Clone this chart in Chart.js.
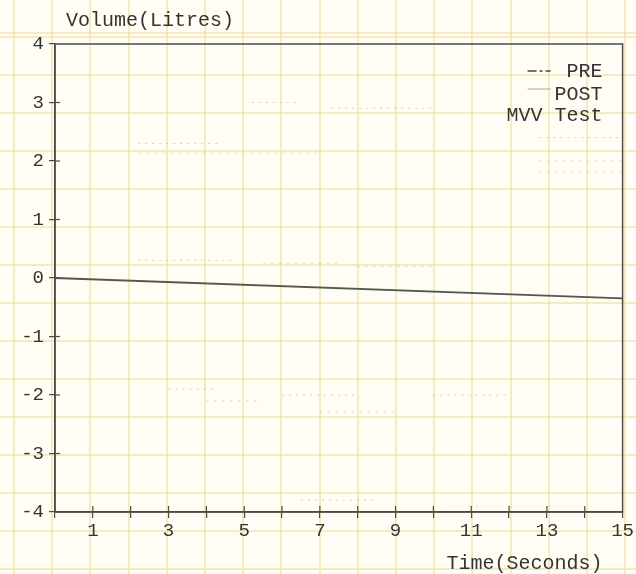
<!DOCTYPE html>
<html>
<head>
<meta charset="utf-8">
<script src="https://cdn.jsdelivr.net/npm/chart.js@4"></script>
<style>
  html, body { margin: 0; padding: 0; }
  body { width: 636px; height: 574px; overflow: hidden; background-color: #fffdf4; }
  /* graph paper behind the chart */
  .paper {
    width: 636px; height: 574px; position: relative;
    background-image:
      repeating-linear-gradient(to right, rgba(240,222,160,0.6) 0 2px, transparent 2px 38.2px),
      repeating-linear-gradient(to bottom, rgba(240,222,160,0.6) 0 2px, transparent 2px 38px);
    background-position: 13px 0, 0 36px;
  }
  canvas { position: absolute; left: 0; top: 0; }
</style>
</head>
<body>
<div class="paper"><canvas id="mvv" width="636" height="574"></canvas></div>
<script>
// ---- DATA ----
const X_TICKS = [1, 3, 5, 7, 9, 11, 13, 15];
const Y_TICKS = [-4, -3, -2, -1, 0, 1, 2, 3, 4];

// dark reference line near zero
const BASE_X = [0, 15];
const BASE_Y = [0, -0.35];

// faint dotted traces (what survives of the printed curves), null = gap
const PRE_X = [2.2, 4.4, null, 5.2, 6.5, null, 7.3, 10, null, 12.8, 15, null, 2.2, 4.8, null, 3, 4.3, null, 6, 8, null, 10, 12, null, 6.5, 8.5];
const PRE_Y = [2.3, 2.3, null, 3.0, 3.0, null, 2.9, 2.9, null, 2.4, 2.4, null, 0.3, 0.3, null, -1.9, -1.9, null, -2.0, -2.0, null, -2.0, -2.0, null, -3.8, -3.8];
const POST_X = [2.2, 7, null, 12.8, 15, null, 12.8, 15, null, 5.5, 7.5, null, 8, 10, null, 4, 5.5, null, 7, 9, null, 10.5, 14];
const POST_Y = [2.15, 2.15, null, 2.0, 2.0, null, 1.8, 1.8, null, 0.25, 0.25, null, 0.2, 0.2, null, -2.1, -2.1, null, -2.3, -2.3, null, -3.9, -3.9];

const LEGEND_LABELS = ['PRE', 'POST'];
const CHART_TITLE = 'MVV Test';
const Y_TITLE = 'Volume(Litres)';
const X_TITLE = 'Time(Seconds)';

const FONT = "'Liberation Mono', 'DejaVu Sans Mono', monospace";
const INK = '#4a4a4a';

const toPoints = (xs, ys) => xs.map((x, i) => (x === null ? { x: NaN, y: null } : { x, y: ys[i] }));

// ---- PAPER-STYLE FRAME, INNER TICKS, TITLES, LEGEND ----
const paperPlugin = {
  id: 'paper',
  afterDraw(chart) {
    const { ctx, chartArea: a, scales } = chart;
    ctx.save();
    ctx.strokeStyle = INK;
    ctx.lineWidth = 1.5;
    ctx.strokeRect(a.left, a.top, a.right - a.left, a.bottom - a.top);

    // tick marks that poke into the plot
    ctx.lineWidth = 1.2;
    for (let v = -3; v <= 3; v++) {
      const y = scales.y.getPixelForValue(v);
      ctx.beginPath(); ctx.moveTo(a.left, y); ctx.lineTo(a.left + 5, y); ctx.stroke();
    }
    for (let v = 1; v < 15; v++) {
      const x = scales.x.getPixelForValue(v);
      ctx.beginPath(); ctx.moveTo(x, a.bottom); ctx.lineTo(x, a.bottom - 6); ctx.stroke();
    }

    ctx.fillStyle = '#333';
    ctx.font = `20px ${FONT}`;
    ctx.textBaseline = 'middle';
    ctx.textAlign = 'left';
    ctx.fillText(Y_TITLE, a.left + 11, 21);
    ctx.textAlign = 'right';
    ctx.fillText(X_TITLE, a.right - 20, 564);

    // legend
    const lx = a.right - 20;
    ctx.font = `20px ${FONT}`;
    ctx.fillText(LEGEND_LABELS[0], lx, 72);
    ctx.fillText(LEGEND_LABELS[1], lx, 95);
    ctx.fillText(CHART_TITLE, lx, 116);
    ctx.lineWidth = 1.5;
    ctx.strokeStyle = '#444';
    ctx.setLineDash([9, 3, 3, 3]);
    ctx.beginPath(); ctx.moveTo(lx - 75, 71); ctx.lineTo(lx - 52, 71); ctx.stroke();
    ctx.setLineDash([]);
    ctx.strokeStyle = 'rgba(160,160,160,0.6)';
    ctx.beginPath(); ctx.moveTo(lx - 75, 89); ctx.lineTo(lx - 52, 89); ctx.stroke();
    ctx.restore();
  }
};

new Chart(document.getElementById('mvv'), {
  type: 'line',
  data: {
    datasets: [
      {
        label: 'baseline',
        data: toPoints(BASE_X, BASE_Y),
        borderColor: '#555',
        borderWidth: 1.8,
        pointRadius: 0,
        tension: 0,
      },
      {
        label: LEGEND_LABELS[0],
        data: toPoints(PRE_X, PRE_Y),
        borderColor: 'rgba(120,120,120,0.35)',
        borderWidth: 1,
        borderDash: [2, 5],
        pointRadius: 0,
        spanGaps: false,
      },
      {
        label: LEGEND_LABELS[1],
        data: toPoints(POST_X, POST_Y),
        borderColor: 'rgba(140,140,140,0.3)',
        borderWidth: 1,
        borderDash: [2, 6],
        pointRadius: 0,
        spanGaps: false,
      }
    ]
  },
  options: {
    responsive: false,
    animation: false,
    layout: { padding: { top: 44, right: 13, left: 0, bottom: 0 } },
    plugins: { legend: { display: false }, tooltip: { enabled: false } },
    scales: {
      x: {
        type: 'linear',
        min: 0, max: 15,
        afterFit: s => { s.height = 62; },
        afterBuildTicks: s => { s.ticks = Array.from({ length: 16 }, (_, i) => ({ value: i })); },
        border: { color: INK, width: 1.5 },
        grid: { drawOnChartArea: false, color: INK, tickLength: 6, lineWidth: 1.2 },
        ticks: {
          color: '#333',
          font: { family: FONT, size: 19 },
          padding: 2,
          maxRotation: 0,
          autoSkip: false,
          callback: v => (X_TICKS.includes(v) ? String(v) : '')
        }
      },
      y: {
        type: 'linear',
        min: -4, max: 4,
        afterFit: s => { s.width = 55; },
        afterBuildTicks: s => { s.ticks = Y_TICKS.map(v => ({ value: v })); },
        border: { color: INK, width: 1.5 },
        grid: { drawOnChartArea: false, color: INK, tickLength: 6, lineWidth: 1.2 },
        ticks: {
          color: '#333',
          font: { family: FONT, size: 19 },
          padding: 5,
          callback: v => String(v)
        }
      }
    }
  },
  plugins: [paperPlugin]
});
</script>
</body>
</html>
